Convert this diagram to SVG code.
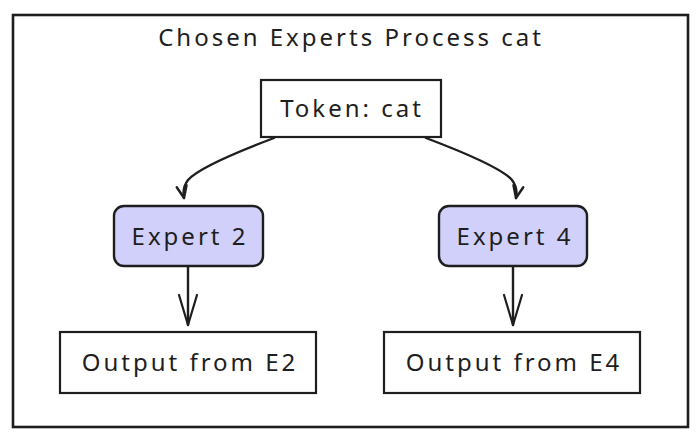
<svg xmlns="http://www.w3.org/2000/svg" width="700" height="440" viewBox="0 0 700 440">
<defs>
<style>
.box{fill:#ffffff;stroke:#1e1e1e;stroke-width:2.2}
.exp{fill:#d0d0fb;stroke:#1e1e1e;stroke-width:2.4}
.lbl{font-family:"Noto Sans","DejaVu Sans",sans-serif;font-size:24px;letter-spacing:3px;fill:#1e1e1e;text-anchor:middle}
.conn{fill:none;stroke:#1e1e1e;stroke-width:2.4;stroke-linecap:round}
</style>
<marker id="ah" viewBox="0 0 34 24" refX="32" refY="12" markerWidth="34" markerHeight="24" markerUnits="userSpaceOnUse" orient="auto">
<path d="M2 3 L32 12 L2 21" fill="none" stroke="#1e1e1e" stroke-width="2.2" stroke-linecap="round" stroke-linejoin="round"/>
</marker>
<marker id="ahs" viewBox="0 0 16 14" refX="14" refY="7" markerWidth="16" markerHeight="14" markerUnits="userSpaceOnUse" orient="auto">
<path d="M2 2 L14 7 L2 12" fill="none" stroke="#1e1e1e" stroke-width="2.4" stroke-linecap="round" stroke-linejoin="round"/>
</marker>
</defs>
<rect width="700" height="440" fill="#ffffff"/>
<g id="frame">
<rect x="13" y="15" width="675" height="412" fill="none" stroke="#1e1e1e" stroke-width="2.6"/>
<text class="lbl" x="351" y="46">Chosen Experts Process cat</text>
</g>
<g id="connectors">
<path class="conn" marker-end="url(#ahs)" d="M274 138 Q200 166 188 180 Q182 188 184 198"/>
<path class="conn" marker-end="url(#ahs)" d="M426 138 Q500 166 512 180 Q518 188 516 198"/>
<path class="conn" marker-end="url(#ah)" d="M188 267 L188 325"/>
<path class="conn" marker-end="url(#ah)" d="M513 267 L513 325"/>
</g>
<g id="token">
<rect class="box" x="261" y="80" width="180" height="57"/>
<text class="lbl" x="352" y="117">Token: cat</text>
</g>
<g id="expert2">
<rect class="exp" x="114" y="206" width="149" height="60" rx="10"/>
<text class="lbl" x="190" y="245">Expert 2</text>
</g>
<g id="expert4">
<rect class="exp" x="439" y="206" width="148" height="60" rx="10"/>
<text class="lbl" x="515" y="245">Expert 4</text>
</g>
<g id="out2">
<rect class="box" x="60" y="332" width="256" height="61"/>
<text class="lbl" x="190" y="371">Output from E2</text>
</g>
<g id="out4">
<rect class="box" x="384" y="332" width="256" height="61"/>
<text class="lbl" x="514" y="371">Output from E4</text>
</g>
</svg>
